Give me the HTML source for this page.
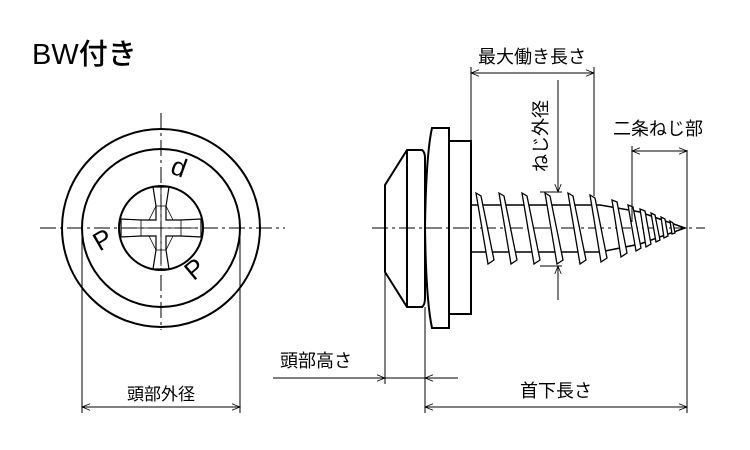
<!DOCTYPE html>
<html><head><meta charset="utf-8"><style>
html,body{margin:0;padding:0;background:#fff}
svg{display:block}
text{font-family:"Liberation Sans","Noto Sans CJK JP",sans-serif;fill:#000}
</style></head><body>
<svg width="750" height="450" viewBox="0 0 750 450" xmlns="http://www.w3.org/2000/svg">
<defs>
<marker id="a" viewBox="0 0 10 10" refX="10" refY="5" markerWidth="10" markerHeight="8" orient="auto-start-reverse" markerUnits="userSpaceOnUse">
<path d="M0,1 L10,5 L0,9" fill="none" stroke="#000" stroke-width="1"/>
</marker>
</defs>
<text x="32" y="64" font-size="29" font-family="Liberation Sans, Noto Sans CJK JP, sans-serif" style="font-weight:500">BW付き</text>

<!-- left view -->
<g fill="none" stroke="#000">
<line x1="40" y1="228" x2="285" y2="228" stroke-width="1" stroke-dasharray="16,4,3,4"/>
<line x1="161" y1="113" x2="161" y2="330" stroke-width="1" stroke-dasharray="16,4,3,4"/>
<circle cx="161" cy="228" r="99" stroke-width="2"/>
<circle cx="161" cy="228" r="79" stroke-width="2"/>
<circle cx="161" cy="228" r="42" stroke-width="2"/>
<path d="M153,187 L169,187 L166,206 L166,220 L181,220 L201,219 L201,237 L181,236 L166,236 L166,250 L169,269 L153,269 L156,250 L156,236 L141,236 L121,237 L121,219 L141,220 L156,220 L156,206 Z" stroke-width="1.2"/>
<path d="M156,206 L166,206 M156,250 L166,250 M141,220 L141,236 M181,220 L181,236 M156,206 L149,220 M166,206 L173,220 M156,250 L149,236 M166,250 L173,236 M161,190 L161,266 M124,228 L198,228" stroke-width="0.8"/>
<line x1="82" y1="230" x2="82" y2="413" stroke-width="1"/>
<line x1="240" y1="230" x2="240" y2="413" stroke-width="1"/>
<line x1="82" y1="407" x2="240" y2="407" stroke-width="1" marker-start="url(#a)" marker-end="url(#a)"/>
</g>
<text x="178" y="178" font-size="26" transform="rotate(200 178 170)" text-anchor="middle">p</text>
<text x="105" y="248" font-size="26" transform="rotate(-30 105 244)" text-anchor="middle">P</text>
<text x="197" y="277" font-size="26" transform="rotate(-40 197 272)" text-anchor="middle">P</text>
<text x="161" y="400" font-size="17" text-anchor="middle">頭部外径</text>

<!-- screw -->
<g fill="none" stroke="#000">
<line x1="372" y1="228" x2="705" y2="228" stroke-width="1" stroke-dasharray="16,4,3,4"/>
<path d="M385,185 L407,150 L422,150 Q425,152 425,158 L425,298 Q425,305 422,307 L407,307 L385,272 Z" stroke-width="2"/>
<line x1="407" y1="150" x2="407" y2="307" stroke-width="2"/>
<path d="M432,128 L449,128 L449,328 L432,328 Q426,300 425,228 Q426,155 432,128 Z" stroke-width="2"/>
<rect x="449" y="141" width="22" height="173" stroke-width="2"/>
<path d="M471,205 L600,205 L640,212 L685,228 L640,244 L600,252 L471,252" stroke-width="1.5"/>
<path d="M476,193 L481,196 L494,260 L488,264 Z M499,193 L504,196 L517,260 L511,264 Z M522,193 L527,196 L540,260 L534,264 Z M545,193 L550,196 L563,260 L557,264 Z M568,193 L573,196 L586,260 L580,264 Z M590,195 L595,198 L607,258 L601,262 Z M612,200 L617,202 L627,253 L621,257 Z M628,205 L633,207 L641,248 L636,251 Z M640,209 L645,211 L651,244 L646,247 Z M651,213 L655,215 L660,240 L656,242 Z M661,217 L665,219 L668,236 L664,238 Z M670,221 L673,223 L675,233 L672,234 Z" stroke-width="1.3" fill="#fff"/>
<!-- extension lines -->
<line x1="385" y1="272" x2="385" y2="384" stroke-width="1"/>
<line x1="425" y1="307" x2="425" y2="413" stroke-width="1"/>
<line x1="687" y1="150" x2="687" y2="413" stroke-width="1"/>
<line x1="471" y1="67" x2="471" y2="141" stroke-width="1"/>
<line x1="594" y1="67" x2="594" y2="196" stroke-width="1"/>
<line x1="632" y1="146" x2="632" y2="222" stroke-width="1"/>
<!-- dims -->
<line x1="471" y1="73" x2="594" y2="73" stroke-width="1" marker-start="url(#a)" marker-end="url(#a)"/>
<line x1="632" y1="151" x2="687" y2="151" stroke-width="1" marker-start="url(#a)" marker-end="url(#a)"/>
<line x1="558" y1="80" x2="558" y2="192" stroke-width="1" marker-end="url(#a)"/>
<line x1="558" y1="300" x2="558" y2="266" stroke-width="1" marker-end="url(#a)"/>
<line x1="540" y1="192" x2="562" y2="192" stroke-width="1"/>
<line x1="540" y1="266" x2="562" y2="266" stroke-width="1"/>
<line x1="273" y1="378" x2="385" y2="378" stroke-width="1" marker-end="url(#a)"/>
<line x1="458" y1="378" x2="425" y2="378" stroke-width="1" marker-end="url(#a)"/>
<line x1="385" y1="378" x2="425" y2="378" stroke-width="1"/>
<line x1="425" y1="407" x2="687" y2="407" stroke-width="1" marker-start="url(#a)" marker-end="url(#a)"/>
</g>
<text x="532" y="63" font-size="18" text-anchor="middle">最大働き長さ</text>
<text x="658" y="135" font-size="18" text-anchor="middle">二条ねじ部</text>
<text x="547" y="136" font-size="18" text-anchor="middle" transform="rotate(-90 547 136)">ねじ外径</text>
<text x="316" y="367" font-size="18" text-anchor="middle">頭部高さ</text>
<text x="556" y="397" font-size="18" text-anchor="middle">首下長さ</text>
</svg>
</body></html>
